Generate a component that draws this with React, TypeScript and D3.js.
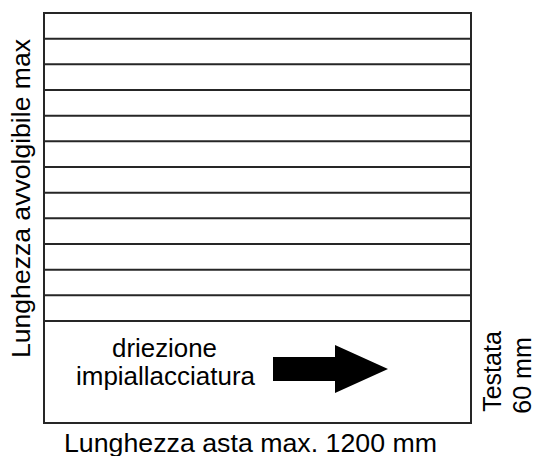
import React from "react";
import * as d3 from "d3";

const strips = ["1", "2", "3", "4", "5", "6", "7", "8", "9", "10", "11", "12"];
const headSection = ["testata"];
const directionLines = ["driezione", "impiallacciatura"];
const leftLabel = "Lunghezza avvolgibile max";
const bottomLabel = "Lunghezza asta max. 1200 mm";
const rightLines = ["Testata", "60 mm"];

const W = 536;
const H = 456;
const FONT = "Liberation Sans, Arial, Helvetica, sans-serif";

export default function App() {
  const x0 = 44, x1 = 471, y0 = 13, yStripEnd = 321, y1 = 423;
  const band = d3.scaleBand<string>().domain(strips).range([y0, yStripEnd]).padding(0);
  const headBand = d3.scaleBand<string>().domain(headSection).range([yStripEnd, y1]);
  const xs = d3.scaleLinear().domain([0, 1]).range([x0, x1]);

  const headTop = headBand("testata")!;
  // arrow geometry
  const ax0 = 273, ax1 = 335, atip = 388;
  const ay = 369;
  const arrow = d3.path();
  arrow.moveTo(ax0, ay - 12);
  arrow.lineTo(ax1, ay - 12);
  arrow.lineTo(ax1, ay - 24);
  arrow.lineTo(atip, ay);
  arrow.lineTo(ax1, ay + 24);
  arrow.lineTo(ax1, ay + 12);
  arrow.lineTo(ax0, ay + 12);
  arrow.closePath();

  const stroke = "#262626";
  return (
    <svg width={W} height={H} style={{ position: "absolute", left: 0, top: 0, background: "#fff" }} fontFamily={FONT}>
      <rect x={0} y={0} width={W} height={H} fill="#fff" />
      <rect x={xs(0)} y={y0} width={xs(1) - xs(0)} height={y1 - y0} fill="none" stroke={stroke} strokeWidth={2} />
      {strips.slice(1).map((s) => (
        <line key={s} x1={xs(0)} x2={xs(1)} y1={band(s)!} y2={band(s)!} stroke={stroke} strokeWidth={2} />
      ))}
      <line x1={xs(0)} x2={xs(1)} y1={headTop} y2={headTop} stroke={stroke} strokeWidth={2} />
      <text x={164.5} y={357} fontSize={25.5} textAnchor="middle" fill="#000" textLength={105} lengthAdjust="spacingAndGlyphs">{directionLines[0]}</text>
      <text x={165.5} y={385} fontSize={25.5} textAnchor="middle" fill="#000" textLength={179} lengthAdjust="spacingAndGlyphs">{directionLines[1]}</text>
      <path d={arrow.toString()} fill="#000" />
      <text transform={`translate(30,198.5) rotate(-90)`} fontSize={25} textAnchor="middle" fill="#000" textLength={319} lengthAdjust="spacingAndGlyphs">{leftLabel}</text>
      <text x={250.5} y={452} fontSize={25} textAnchor="middle" fill="#000" textLength={373} lengthAdjust="spacingAndGlyphs">{bottomLabel}</text>
      <text transform={`translate(501,371.5) rotate(-90)`} fontSize={25} textAnchor="middle" fill="#000">{rightLines[0]}</text>
      <text transform={`translate(531,375.5) rotate(-90)`} fontSize={25} textAnchor="middle" fill="#000">{rightLines[1]}</text>
    </svg>
  );
}
